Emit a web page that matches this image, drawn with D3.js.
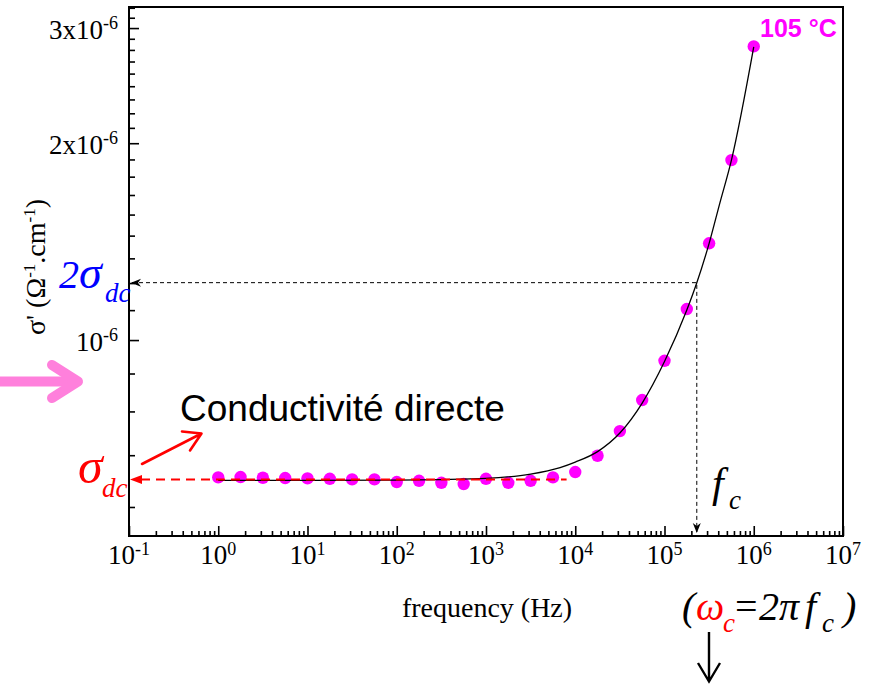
<!DOCTYPE html>
<html>
<head>
<meta charset="utf-8">
<script src="https://cdn.jsdelivr.net/npm/d3@7"></script>
<style>
  body { margin: 0; background: #fff; }
  text { font-family: "Liberation Serif", "Times New Roman", serif; }
  text.sans { font-family: "Liberation Sans", Arial, sans-serif; }
</style>
</head>
<body>
<svg id="chart" width="873" height="686"></svg>
<script>
// Measured real part of conductivity at 105 °C
const frequency = [1, 1.778, 3.162, 5.623, 10, 17.78, 31.62, 56.23, 100, 177.8, 316.2, 562.3,
                   1000, 1778, 3162, 5623, 1e4, 17783, 31623, 56234, 1e5, 177828, 316228, 562341, 1e6];
const sigma = [0.6167e-6, 0.6173e-6, 0.6158e-6, 0.6152e-6, 0.6145e-6, 0.6136e-6, 0.6123e-6, 0.6123e-6,
               0.6065e-6, 0.6093e-6, 0.6050e-6, 0.6023e-6, 0.6136e-6, 0.6050e-6, 0.6093e-6, 0.6167e-6,
               0.6283e-6, 0.6654e-6, 0.7257e-6, 0.8096e-6, 0.9297e-6, 1.1153e-6, 1.4060e-6, 1.8845e-6, 2.8124e-6];

// Power-law fit curve (sampled)
const fitFrequency = [1, 10, 100, 316.2, 1000, 3162, 6761, 1e4, 17783, 31623, 56234,
                      1e5, 177828, 229087, 316228, 416869, 562341, 1e6];
const fitSigma = [0.6101e-6, 0.6101e-6, 0.6107e-6, 0.6118e-6, 0.6144e-6, 0.6238e-6, 0.6383e-6, 0.6508e-6,
                  0.6752e-6, 0.7208e-6, 0.8011e-6, 0.9271e-6, 1.1113e-6, 1.2212e-6, 1.4058e-6, 1.6199e-6,
                  1.8846e-6, 2.8083e-6];

// Characteristic values
const sigmaDc = 0.612e-6;   // plateau conductivity
const fc = 2.3e5;           // crossover frequency (σ = 2σdc)
const dcGuideEnd = 8000;    // where the dc guide line stops (Hz)

// Axis ticks
const xTickValues = [1e-1, 1e0, 1e1, 1e2, 1e3, 1e4, 1e5, 1e6, 1e7];
const xTickExponents = ["-1", "0", "1", "2", "3", "4", "5", "6", "7"];
const yTickValues = [1e-6, 2e-6, 3e-6];
const yTickMantissas = ["", "2x", "3x"];
const yTickExponents = ["-6", "-6", "-6"];

const svg = d3.select("#chart");
const plotLeft = 129, plotRight = 843, plotTop = 7, plotBottom = 536;

const x = d3.scaleLog().domain([1e-1, 1e7]).range([plotLeft, plotRight]);
const y = d3.scaleLog().domain([5.016e-7, 3.231e-6]).range([plotBottom, plotTop]);

// minor ticks
const xMinor = [];
for (let e = -1; e < 7; e++) for (let m = 2; m <= 9; m++) xMinor.push(m * Math.pow(10, e));
const yMinor = [];
for (let k = 5; k <= 29; k++) if (k % 9 !== 0) yMinor.push(k / 9 * 1e-6);

const tickStyle = g => {
  g.select(".domain").remove();
  g.selectAll(".tick line").attr("stroke", "#000").attr("stroke-width", 1.6);
};

// bottom axis (ticks point inwards)
svg.append("g").attr("transform", `translate(0,${plotBottom})`)
  .call(d3.axisBottom(x).tickValues(xMinor).tickSize(-5).tickFormat(""))
  .call(tickStyle);
svg.append("g").attr("transform", `translate(0,${plotBottom})`)
  .call(d3.axisBottom(x).tickValues(xTickValues).tickSize(-10).tickFormat(""))
  .call(tickStyle);

// left axis
svg.append("g").attr("transform", `translate(${plotLeft},0)`)
  .call(d3.axisLeft(y).tickValues(yMinor).tickSize(-6).tickFormat(""))
  .call(tickStyle);
svg.append("g").attr("transform", `translate(${plotLeft},0)`)
  .call(d3.axisLeft(y).tickValues(yTickValues).tickSize(-10).tickFormat(""))
  .call(tickStyle);

// frame
svg.append("rect")
  .attr("x", plotLeft).attr("y", plotTop)
  .attr("width", plotRight - plotLeft).attr("height", plotBottom - plotTop)
  .attr("fill", "none").attr("stroke", "#000").attr("stroke-width", 2);

// x tick labels
xTickValues.forEach((v, i) => {
  const t = svg.append("text")
    .attr("x", x(v)).attr("y", 564)
    .attr("text-anchor", "middle")
    .attr("font-size", 27);
  t.append("tspan").text("10");
  t.append("tspan").attr("dy", -9).attr("font-size", 18).text(xTickExponents[i]);
});

// y tick labels
yTickValues.forEach((v, i) => {
  const t = svg.append("text")
    .attr("x", 118).attr("y", y(v) + 11)
    .attr("text-anchor", "end")
    .attr("font-size", 27);
  t.append("tspan").text(yTickMantissas[i] + "10");
  t.append("tspan").attr("dy", -10).attr("font-size", 18).text(yTickExponents[i]);
});

// axis titles
svg.append("text")
  .attr("x", 487).attr("y", 617)
  .attr("text-anchor", "middle")
  .attr("font-size", 28)
  .text("frequency (Hz)");

const yt = svg.append("text")
  .attr("transform", "translate(45,267) rotate(-90)")
  .attr("text-anchor", "middle")
  .attr("font-size", 28);
yt.append("tspan").text("σ' (Ω");
yt.append("tspan").attr("dy", -10).attr("font-size", 17).text("-1");
yt.append("tspan").attr("dy", 10).text(".cm");
yt.append("tspan").attr("dy", -10).attr("font-size", 17).text("-1");
yt.append("tspan").attr("dy", 10).text(")");

// data points
svg.append("g").selectAll("circle")
  .data(frequency.map((f, i) => [f, sigma[i]]))
  .join("circle")
  .attr("cx", d => x(d[0]))
  .attr("cy", d => y(d[1]))
  .attr("r", 6.2)
  .attr("fill", "#FF00FF");

// fit curve
svg.append("path")
  .datum(fitFrequency.map((f, i) => [f, fitSigma[i]]))
  .attr("fill", "none")
  .attr("stroke", "#000")
  .attr("stroke-width", 1.3)
  .attr("d", d3.line().x(d => x(d[0])).y(d => y(d[1])).curve(d3.curveMonotoneX));

// dc guide (red dashed with filled arrowhead on the axis)
const yDc = y(sigmaDc);
svg.append("line")
  .attr("x1", plotLeft + 12).attr("x2", x(dcGuideEnd))
  .attr("y1", yDc).attr("y2", yDc)
  .attr("stroke", "#FF0000").attr("stroke-width", 2)
  .attr("stroke-dasharray", "9,6");
svg.append("path")
  .attr("d", `M${plotLeft + 1},${yDc} L${plotLeft + 13},${yDc - 4.5} L${plotLeft + 13},${yDc + 4.5} Z`)
  .attr("fill", "#FF0000");

// 2σdc guide and fc drop line
const y2 = y(2 * sigmaDc);
const xc = x(fc);
svg.append("path")
  .attr("d", `M${plotLeft + 3},${y2} H${xc} V${plotBottom - 4}`)
  .attr("fill", "none").attr("stroke", "#000").attr("stroke-width", 1)
  .attr("stroke-dasharray", "4,3");
svg.append("path")
  .attr("d", `M${plotLeft + 2},${y2} L${plotLeft + 12},${y2 - 4} L${plotLeft + 9},${y2} L${plotLeft + 12},${y2 + 4} Z`)
  .attr("fill", "#000");
svg.append("path")
  .attr("d", `M${xc},${plotBottom - 3} L${xc - 4},${plotBottom - 13} L${xc},${plotBottom - 10} L${xc + 4},${plotBottom - 13} Z`)
  .attr("fill", "#000");

// pink pointer on the left
const pink = "#FF80DC";
svg.append("line").attr("x1", 0).attr("x2", 76).attr("y1", 381.5).attr("y2", 381.5)
  .attr("stroke", pink).attr("stroke-width", 10).attr("stroke-linecap", "round");
svg.append("polyline").attr("points", "52,365 78,381.5 52,398")
  .attr("fill", "none").attr("stroke", pink).attr("stroke-width", 10)
  .attr("stroke-linecap", "round").attr("stroke-linejoin", "round");

// "Conductivité directe" label with red arrow
svg.append("text")
  .attr("class", "sans")
  .attr("x", 180).attr("y", 421)
  .attr("font-size", 37)
  .text("Conductivité directe");
svg.append("path")
  .attr("d", "M142,464 L201.5,433.5 M182,431.5 L201.5,433.5 L190,450.5")
  .attr("fill", "none").attr("stroke", "#FF0000").attr("stroke-width", 2.6)
  .attr("stroke-linecap", "round").attr("stroke-linejoin", "round");

// σdc label (red)
const sdc = svg.append("g").attr("fill", "#FF0000").attr("font-style", "italic");
sdc.append("text").attr("x", 78).attr("y", 483).attr("font-size", 50).text("σ");
sdc.append("text").attr("x", 102).attr("y", 497).attr("font-size", 27).text("dc");

// 2σdc label (blue)
const s2 = svg.append("g").attr("fill", "#0000FF").attr("font-style", "italic");
s2.append("text").attr("x", 59).attr("y", 288).attr("font-size", 40).text("2");
s2.append("text").attr("x", 79).attr("y", 288).attr("font-size", 46).text("σ");
s2.append("text").attr("x", 105).attr("y", 302).attr("font-size", 27).text("dc");

// fc label
const fl = svg.append("g").attr("font-style", "italic");
fl.append("text").attr("x", 712).attr("y", 497).attr("font-size", 42).text("f");
fl.append("text").attr("x", 729).attr("y", 509).attr("font-size", 27).text("c");

// (ωc = 2π fc)
const eq = svg.append("g").attr("font-style", "italic").attr("font-size", 40);
eq.append("text").attr("x", 682).attr("y", 620).text("(");
eq.append("text").attr("x", 696).attr("y", 620).attr("fill", "#FF0000").text("ω");
eq.append("text").attr("x", 723).attr("y", 632).attr("font-size", 27).attr("fill", "#FF0000").text("c");
eq.append("text").attr("x", 735).attr("y", 620).attr("font-style", "normal").text("=");
eq.append("text").attr("x", 759).attr("y", 620).text("2");
eq.append("text").attr("x", 779).attr("y", 620).text("π");
eq.append("text").attr("x", 805).attr("y", 620).text("f");
eq.append("text").attr("x", 822).attr("y", 632).attr("font-size", 27).text("c");
eq.append("text").attr("x", 843).attr("y", 620).text(")");

// down arrow under the equation
svg.append("path")
  .attr("d", "M709,632 L709,681.5 M698,663 L709,681.5 L720,663")
  .attr("fill", "none").attr("stroke", "#000").attr("stroke-width", 2.4)
  .attr("stroke-linejoin", "miter");

// temperature tag
svg.append("text")
  .attr("class", "sans")
  .attr("x", 760).attr("y", 36.5)
  .attr("font-weight", "bold")
  .attr("font-size", 25)
  .attr("fill", "#FF00FF")
  .text("105 °C");
</script>
</body>
</html>
